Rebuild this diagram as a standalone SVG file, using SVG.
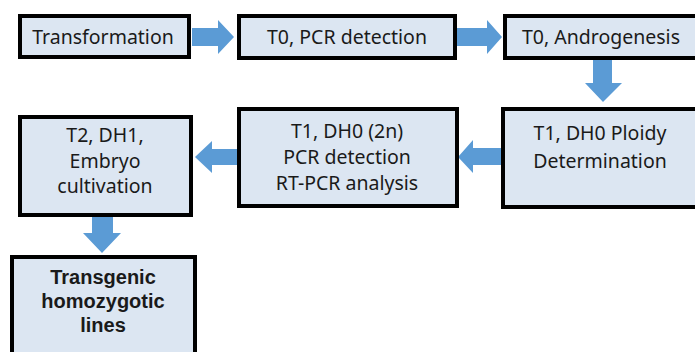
<svg xmlns="http://www.w3.org/2000/svg" width="695" height="352" viewBox="0 0 695 352">
<style>
.box{fill:#dce6f2;stroke:#000;stroke-width:4}
.t{font-family:"Noto Sans","Open Sans",sans-serif;font-size:19.5px;fill:#1a1a1a;text-anchor:middle}
.b{font-family:"Liberation Sans",Arial,sans-serif;font-weight:bold;font-size:20px}
.arr{fill:#5b9bd5}
</style>
<rect width="695" height="352" fill="#fff"/>
<g id="connectors">
<polygon class="arr" points="192,28 218,28 218,20 234,37 218,54 218,46 192,46"/>
<polygon class="arr" points="457,28 487,28 487,20 502,37 487,54 487,46 457,46"/>
<polygon class="arr" points="593,60 612,60 612,83 622,83 603,102 585,83 593,83"/>
<polygon class="arr" points="501,148 473,148 473,140 458,157 473,173 473,165 501,165"/>
<polygon class="arr" points="237,149 212,149 212,141 195,157 212,173 212,165 237,165"/>
<polygon class="arr" points="92,217 113,217 113,233 121,233 102,253 83,233 92,233"/>
</g>
<g id="n1"><rect class="box" x="20" y="16" width="169" height="41"/><text class="t" x="103" y="44">Transformation</text></g>
<g id="n2"><rect class="box" x="239" y="16" width="216" height="42"/><text class="t" x="347" y="44">T0, PCR detection</text></g>
<g id="n3"><rect class="box" x="505" y="16" width="200" height="42"/><text class="t" x="601" y="44">T0, Androgenesis</text></g>
<g id="n4"><rect class="box" x="503" y="109" width="200" height="98"/><text class="t" x="600" y="140">T1, DH0 Ploidy</text><text class="t" x="600" y="168">Determination</text></g>
<g id="n5"><rect class="box" x="239" y="109" width="218" height="97"/><text class="t" x="347" y="138">T1, DH0 (2n)</text><text class="t" x="347" y="164">PCR detection</text><text class="t" x="347" y="190">RT-PCR analysis</text></g>
<g id="n6"><rect class="box" x="20" y="117" width="171" height="98"/><text class="t" x="105" y="142">T2, DH1,</text><text class="t" x="105" y="168">Embryo</text><text class="t" x="105" y="193">cultivation</text></g>
<g id="n7"><rect class="box" x="12" y="257" width="183" height="110"/><text class="t b" x="103" y="284">Transgenic</text><text class="t b" x="103" y="308">homozygotic</text><text class="t b" x="103" y="332">lines</text></g>
</svg>
